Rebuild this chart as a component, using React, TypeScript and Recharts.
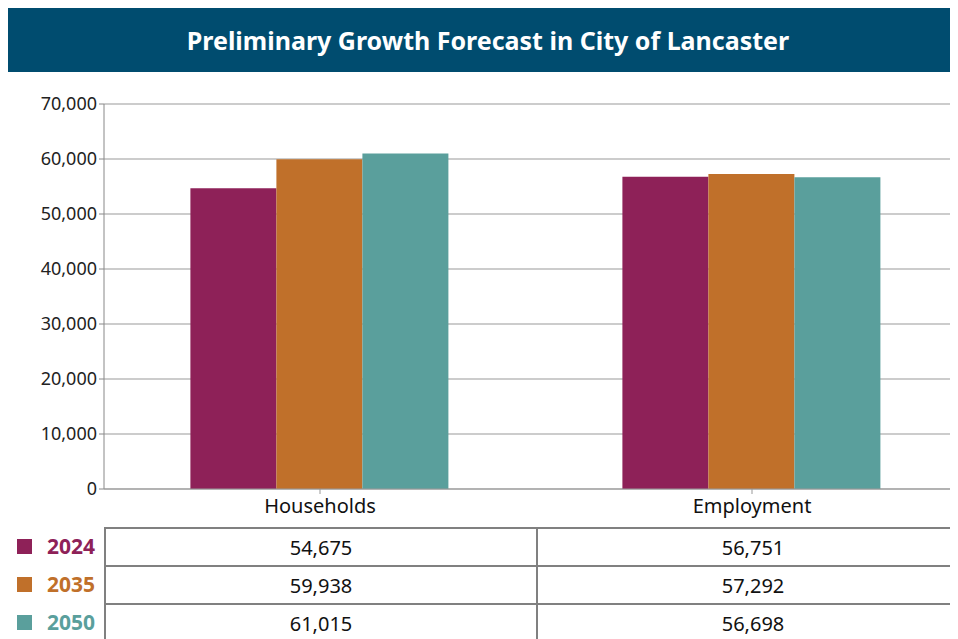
import React from "react";
import { BarChart, Bar, XAxis, YAxis, CartesianGrid } from "recharts";

const categories = ["Households", "Employment"];
const years = ["2024", "2035", "2050"];
const values2024 = [54675, 56751];
const values2035 = [59938, 57292];
const values2050 = [61015, 56698];
const yTicks = [0, 10000, 20000, 30000, 40000, 50000, 60000, 70000];
const yearColors = ["#8e2158", "#c0702a", "#5a9f9c"];

const seriesValues = [values2024, values2035, values2050];

const data = categories.map((name, i) => ({
  name,
  y2024: values2024[i],
  y2035: values2035[i],
  y2050: values2050[i],
}));

const FONT = "'Noto Sans', 'Open Sans', sans-serif";
const BORDER = "2px solid #808080";

export default function App() {
  return (
    <div style={{ width: 950, overflow: "hidden", fontFamily: FONT }}>
      <div
        style={{
          height: 64,
          background: "#004c6f",
          color: "#ffffff",
          fontWeight: 700,
          fontSize: 25,
          lineHeight: "64px",
          textAlign: "center",
          paddingLeft: 10,
        }}
      >
        Preliminary Growth Forecast in City of Lancaster
      </div>

      <BarChart
        width={960}
        height={448}
        data={data}
        margin={{ top: 32, right: 0, left: 0, bottom: 0 }}
        barCategoryGap="20%"
        barGap={0}
      >
        <CartesianGrid vertical={false} stroke="#999999" />
        <YAxis
          width={96}
          domain={[0, 70000]}
          ticks={yTicks}
          tickFormatter={(v: number) => v.toLocaleString("en-US")}
          tick={{ fontSize: 18, fill: "#222222", fontFamily: FONT }}
          tickSize={5}
          tickMargin={2}
          stroke="#888888"
          interval={0}
        />
        <XAxis
          dataKey="name"
          height={31}
          tick={{ fontSize: 20, fill: "#111111", fontFamily: FONT }}
          tickSize={5}
          tickMargin={5}
          stroke="#999999"
        />
        {years.map((y, i) => (
          <Bar
            key={y}
            dataKey={`y${y}`}
            fill={yearColors[i]}
            isAnimationActive={false}
          />
        ))}
      </BarChart>

      <div style={{ marginTop: 7, width: 970 }}>
        {years.map((y, r) => (
          <div key={y} style={{ display: "flex", height: 38 }}>
            <div
              style={{
                width: 96,
                display: "flex",
                alignItems: "center",
                color: yearColors[r],
                fontWeight: 700,
                fontSize: 21,
              }}
            >
              <span
                style={{
                  display: "inline-block",
                  width: 15,
                  height: 15,
                  background: yearColors[r],
                  marginLeft: 9,
                  marginRight: 15,
                }}
              />
              {y}
            </div>
            {categories.map((c, ci) => (
              <div
                key={c}
                style={{
                  width: 432,
                  boxSizing: "border-box",
                  borderLeft: BORDER,
                  borderTop: BORDER,
                  display: "flex",
                  alignItems: "center",
                  justifyContent: "center",
                  fontSize: 20,
                  color: "#111111",
                }}
              >
                {seriesValues[r][ci].toLocaleString("en-US")}
              </div>
            ))}
          </div>
        ))}
      </div>
    </div>
  );
}
